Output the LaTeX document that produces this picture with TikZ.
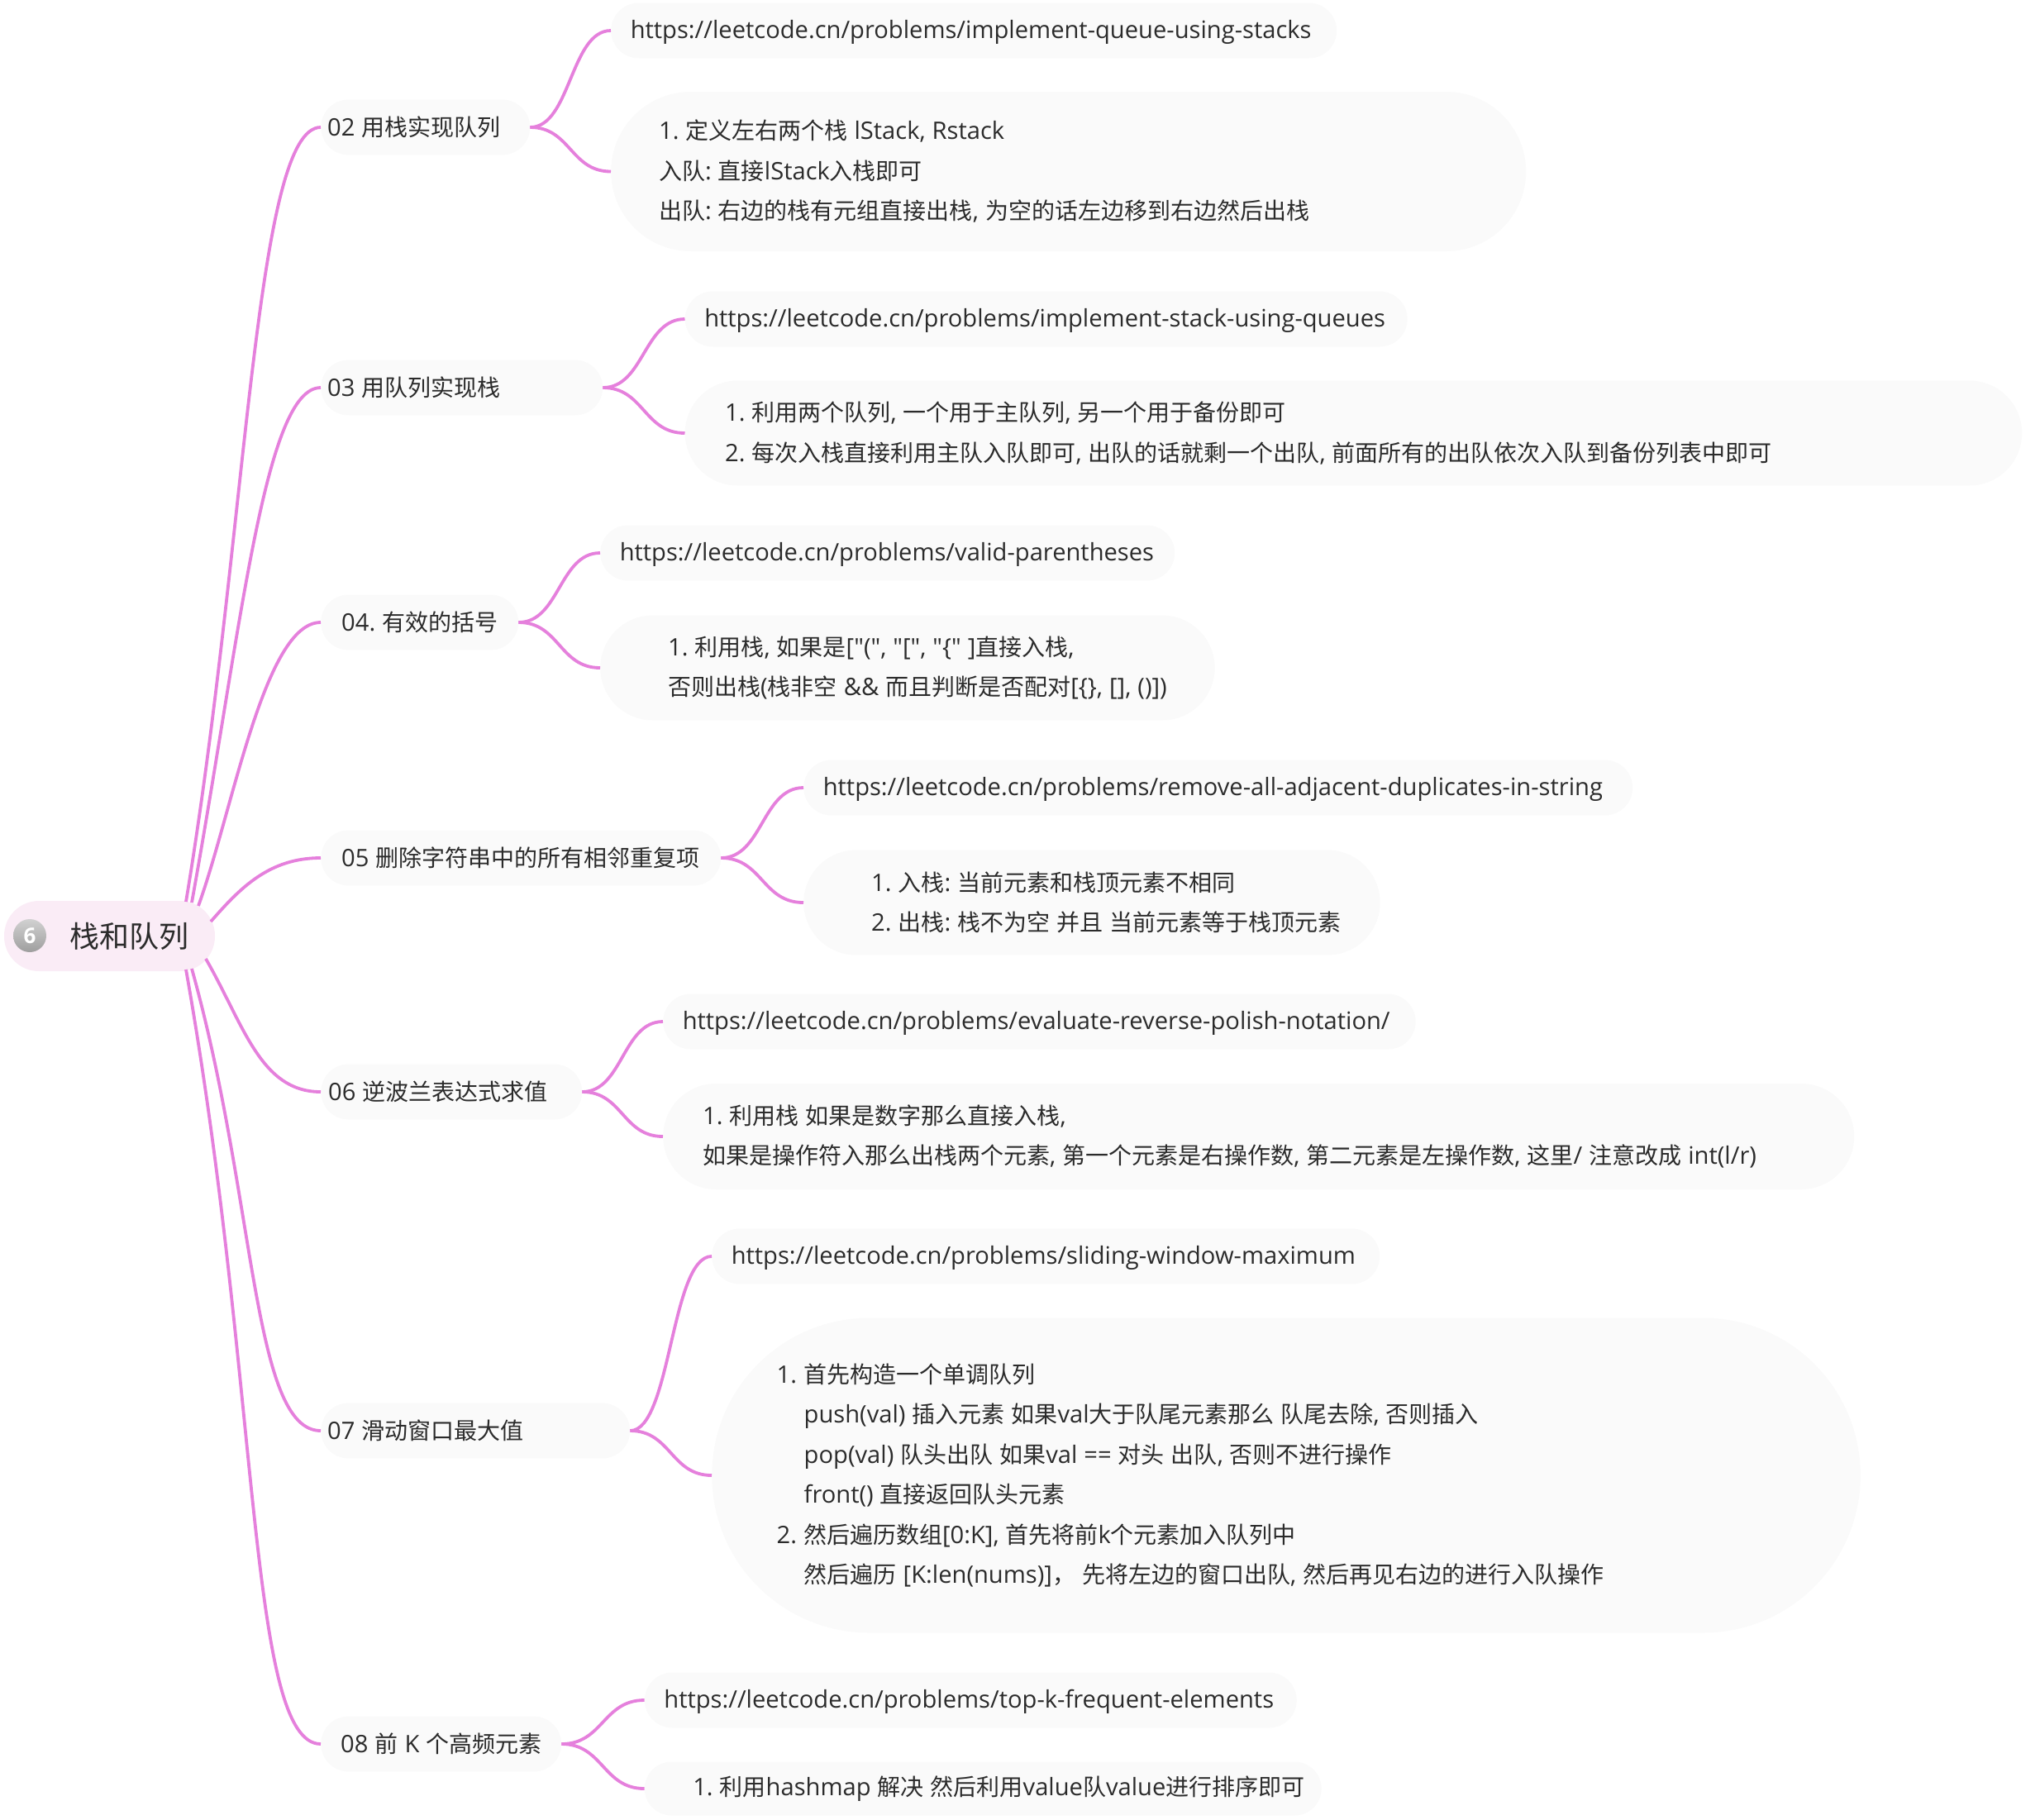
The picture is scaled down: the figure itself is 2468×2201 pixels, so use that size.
\documentclass[tikz,border=0pt]{standalone}
\usepackage{fontspec}
\setmainfont[Scale=1.04]{Open Sans}
\newfontfamily\zhfont{Noto Sans CJK SC}
\newfontfamily\lafont[Scale=1.04]{Open Sans}
% switch the font between latin and chinese runs
\newXeTeXintercharclass\zhclass
\newcount\zhcode
\zhcode="4E00
\loop\ifnum\zhcode<"9FFF
  \XeTeXcharclass\zhcode=\zhclass
  \advance\zhcode by 1
\repeat
\XeTeXcharclass"FF0C=\zhclass
\XeTeXinterchartoks 0 \zhclass={\zhfont}
\XeTeXinterchartoks \zhclass 0 ={\lafont}
\XeTeXinterchartoks 4095 \zhclass={\zhfont}
\XeTeXinterchartoks 4095 0 ={\lafont}
\XeTeXinterchartokenstate=1
\frenchspacing
\definecolor{branchpink}{HTML}{E580DC}
\definecolor{rootfill}{HTML}{FAECF6}
\definecolor{boxfill}{HTML}{FAFAFA}
\definecolor{inkgray}{HTML}{2B2B2B}
\usetikzlibrary{calc}

\begin{document}
\begin{tikzpicture}[x=1pt, y=-1pt]
\tikzset{
  base/.style={rectangle, fill=boxfill, text=inkgray, font=\fontsize{28}{48.5}\selectfont},
  note/.style n args={3}{base, anchor=west, align=left, inner sep=0, text width=#2, minimum height=#3, rounded corners=#3/2, execute at begin node={\leftskip=#1pt\spaceskip=8pt}},
  topic/.style 2 args={note={#1}{#2}{67}},
  link/.style={note={23.6}{#1}{67}, text height=27, text depth=8},
  branch/.style={draw=branchpink, line width=3.8},
  link edge/.style={to path={let \p1=(\tikztostart), \p2=(\tikztotarget), \p3=($(\p1)!.5!(\p2)$) in .. controls (\x3,\y1) and (\x3,\y2) .. (\p2)}}
}
\useasboundingbox (0,0) rectangle (2468,2201);

\node[base, minimum width=255, minimum height=85, rounded corners=42, fill=rootfill, inner sep=0, font=\fontsize{36}{40}\selectfont] (root) at (132.5,1132.5) {\hspace*{48pt}栈和队列};
\node[circle, minimum size=40, inner sep=0, top color=black!18, bottom color=black!38, text=white, font=\fontsize{25}{27}\selectfont\bfseries] (badge) at (36,1132) {6};

\node[topic={8}{253}] (q02) at (388,154) {02 用栈实现队列};
\node[topic={8}{341}] (q03) at (388,469) {03 用队列实现栈};
\node[topic={25}{239}] (q04) at (388,753) {04. 有效的括号};
\node[topic={25}{484}] (q05) at (388,1038) {05 删除字符串中的所有相邻重复项};
\node[topic={9}{316}] (q06) at (388,1321) {06 逆波兰表达式求值};
\node[topic={8}{374}] (q07) at (388,1731) {07 滑动窗口最大值};
\node[topic={24}{291}] (q08) at (388,2110) {08 前 K 个高频元素};

\node[link=878] (u02) at (739,37) {https://leetcode.cn/problems/implement-queue-using-stacks};
\node[note={58}{1107}{193}] (n02) at (739,207.5) {1. 定义左右两个栈 lStack, Rstack\\入队: 直接lStack入栈即可\\出队: 右边的栈有元组直接出栈, 为空的话左边移到右边然后出栈};

\node[link=874] (u03) at (828.5,386) {https://leetcode.cn/problems/implement-stack-using-queues};
\node[note={48.5}{1617.5}{127}] (n03) at (828.5,524) {1. 利用两个队列, 一个用于主队列, 另一个用于备份即可\\2. 每次入栈直接利用主队入队即可, 出队的话就剩一个出队, 前面所有的出队依次入队到备份列表中即可};

\node[link=695] (u04) at (726,669) {https://leetcode.cn/problems/valid-parentheses};
\node[note={82}{743.5}{127}] (n04) at (726,808) {1. 利用栈, 如果是["(", "[", "\{" ]直接入栈,\\否则出栈(栈非空 \&\& 而且判断是否配对[\{\}, [], ()])};

\node[link=1003] (u05) at (972,953) {https://leetcode.cn/problems/remove-all-adjacent-duplicates-in-string};
\node[note={82}{697.5}{127}] (n05) at (972,1092) {1. 入栈: 当前元素和栈顶元素不相同\\2. 出栈: 栈不为空 并且 当前元素等于栈顶元素};

\node[link=910.5] (u06) at (802,1236) {https://leetcode.cn/problems/evaluate-reverse-polish-notation/};
\node[note={48}{1441}{128}] (n06) at (802,1375) {1. 利用栈 如果是数字那么直接入栈,\\如果是操作符入那么出栈两个元素, 第一个元素是右操作数, 第二元素是左操作数, 这里/ 注意改成 int(l/r)};

\node[link=808] (u07) at (861,1520) {https://leetcode.cn/problems/sliding-window-maximum};
\node[note={78.5}{1389.7}{381}] (n07) at (861,1785) {1. 首先构造一个单调队列\\\hspace*{33pt}push(val) 插入元素 如果val大于队尾元素那么 队尾去除, 否则插入\\\hspace*{33pt}pop(val) 队头出队 如果val == 对头 出队, 否则不进行操作\\\hspace*{33pt}front() 直接返回队头元素\\2. 然后遍历数组[0:K], 首先将前k个元素加入队列中\\\hspace*{33pt}然后遍历 [K:len(nums)]， 先将左边的窗口出队, 然后再见右边的进行入队操作};

\node[link=789] (u08) at (779.6,2057) {https://leetcode.cn/problems/top-k-frequent-elements};
\node[note={58.5}{819}{65}] (n08) at (779.6,2164) {1. 利用hashmap 解决 然后利用value队value进行排序即可};

\coordinate (r02) at (225,1091);
\coordinate (r03) at (232,1092);
\coordinate (r04) at (240,1096);
\coordinate (r05) at (255,1115);
\coordinate (r06) at (249,1160);
\coordinate (r07) at (232,1172);
\coordinate (r08) at (225,1173);

\draw[branch] (r02) .. controls (300,640) and (308,154) .. (q02.west);
\draw[branch] (r03) .. controls (292,760) and (320,469) .. (q03.west);
\draw[branch] (r04) .. controls (282,980) and (320,753) .. (q04.west);
\draw[branch] (r05) .. controls (290,1075) and (325,1038) .. (q05.west);
\draw[branch] (r06) .. controls (295,1240) and (315,1321) .. (q06.west);
\draw[branch] (r07) .. controls (310,1450) and (305,1731) .. (q07.west);
\draw[branch] (r08) .. controls (315,1680) and (300,2110) .. (q08.west);

\path[branch]
(q02.east) edge[link edge] (u02.west)
(q02.east) edge[link edge] (n02.west)
(q03.east) edge[link edge] (u03.west)
(q03.east) edge[link edge] (n03.west)
(q04.east) edge[link edge] (u04.west)
(q04.east) edge[link edge] (n04.west)
(q05.east) edge[link edge] (u05.west)
(q05.east) edge[link edge] (n05.west)
(q06.east) edge[link edge] (u06.west)
(q06.east) edge[link edge] (n06.west)
(q07.east) edge[link edge] (u07.west)
(q07.east) edge[link edge] (n07.west)
(q08.east) edge[link edge] (u08.west)
(q08.east) edge[link edge] (n08.west);

\end{tikzpicture}
\end{document}
